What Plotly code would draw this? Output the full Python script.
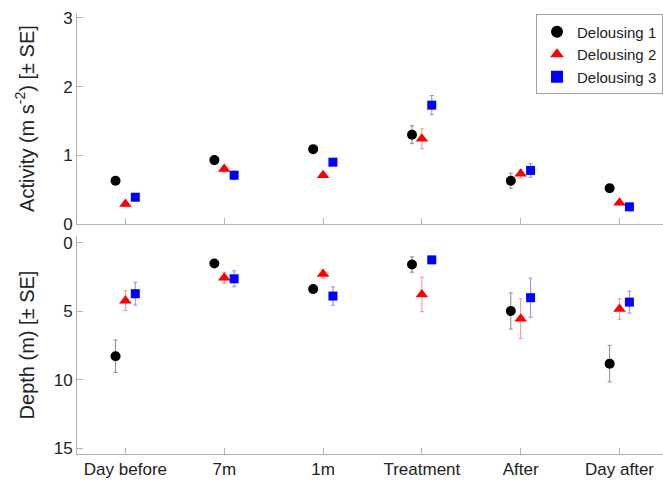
import numpy as np
import plotly.graph_objects as go

categories = ["Day before", "7m", "1m", "Treatment", "After", "Day after"]
series_names = ["Delousing 1", "Delousing 2", "Delousing 3"]

activity_d1 = [0.63, 0.93, 1.09, 1.30, 0.63, 0.52]
activity_d1_se = [0.03, 0.03, 0.03, 0.13, 0.11, 0.03]
activity_d2 = [0.29, 0.80, 0.71, 1.24, 0.73, 0.31]
activity_d2_se = [0.03, 0.04, 0.03, 0.145, 0.06, 0.03]
activity_d3 = [0.39, 0.71, 0.90, 1.73, 0.78, 0.25]
activity_d3_se = [0.03, 0.06, 0.03, 0.14, 0.10, 0.03]

depth_d1 = [8.27, 1.50, 3.37, 1.58, 4.97, 8.81]
depth_d1_se = [1.18, 0.15, 0.30, 0.56, 1.32, 1.33]
depth_d2 = [4.22, 2.55, 2.28, 3.76, 5.53, 4.83]
depth_d2_se = [0.72, 0.40, 0.30, 1.26, 1.45, 0.75]
depth_d3 = [3.71, 2.62, 3.88, 1.24, 4.00, 4.32]
depth_d3_se = [0.83, 0.58, 0.67, 0.10, 1.43, 0.80]

colors = ["#000000", "#ff0000", "#0000ff"]
err_colors = ["#8c8c8c", "#ff8c8c", "#8c8cff"]
symbols = ["circle", "triangle-up", "square"]
sizes = [10, 11, 9]
offsets = [-0.1, 0.0, 0.1]

base = np.arange(1, len(categories) + 1)
act = [(activity_d1, activity_d1_se), (activity_d2, activity_d2_se), (activity_d3, activity_d3_se)]
dep = [(depth_d1, depth_d1_se), (depth_d2, depth_d2_se), (depth_d3, depth_d3_se)]

fig = go.Figure()
for i in range(3):
    fig.add_trace(go.Scatter(
        x=base + offsets[i], y=act[i][0], mode="markers", name=series_names[i],
        marker=dict(color=colors[i], symbol=symbols[i], size=sizes[i], line=dict(width=0)),
        error_y=dict(type="data", array=act[i][1], color=err_colors[i], thickness=1, width=2),
        xaxis="x", yaxis="y", legendgroup=series_names[i]))
for i in range(3):
    fig.add_trace(go.Scatter(
        x=base + offsets[i], y=dep[i][0], mode="markers", name=series_names[i],
        marker=dict(color=colors[i], symbol=symbols[i], size=sizes[i], line=dict(width=0)),
        error_y=dict(type="data", array=dep[i][1], color=err_colors[i], thickness=1, width=2),
        xaxis="x2", yaxis="y2", legendgroup=series_names[i], showlegend=False))

axcol = "#b4b4b4"
font = dict(family="Liberation Sans, Arial, sans-serif", size=17, color="#222222")
common_x = dict(range=[0.51, 6.44], tickvals=list(base), showline=True, linecolor=axcol,
                linewidth=1, ticks="inside", ticklen=6, tickcolor=axcol, showgrid=False,
                zeroline=False)
common_y = dict(showline=True, linecolor=axcol, linewidth=1, ticks="inside", ticklen=6,
                tickcolor=axcol, showgrid=False, zeroline=False)

fig.update_layout(
    width=663, height=483,
    margin=dict(l=77, r=0, t=10, b=29),
    paper_bgcolor="white", plot_bgcolor="white",
    font=font,
    showlegend=True,
    legend=dict(x=1, xanchor="right", y=0.99, yanchor="top", bgcolor="white",
                bordercolor="#a0a0a0", borderwidth=1, font=dict(size=15, color="#222222"),
                tracegroupgap=0, itemwidth=30, itemsizing="constant"),
    xaxis=dict(domain=[0, 1], anchor="y", showticklabels=False, **common_x),
    xaxis2=dict(domain=[0, 1], anchor="y2", tickmode="array", ticktext=categories, **common_x),
    yaxis=dict(domain=[0.518, 0.993], anchor="x", range=[0, 3.07], tickvals=[0, 1, 2, 3],
               title=dict(text="Activity (m s<sup>-2</sup>) [± SE]", standoff=23), **common_y),
    yaxis2=dict(domain=[0, 0.491], anchor="x2", range=[15.4, -0.5], tickvals=[0, 5, 10, 15],
                title=dict(text="Depth (m) [± SE]", standoff=13), **common_y),
)

fig.write_html("out.html", config={"displayModeBar": False},
               post_script="document.body.style.margin='0';document.body.style.overflow='hidden';")
